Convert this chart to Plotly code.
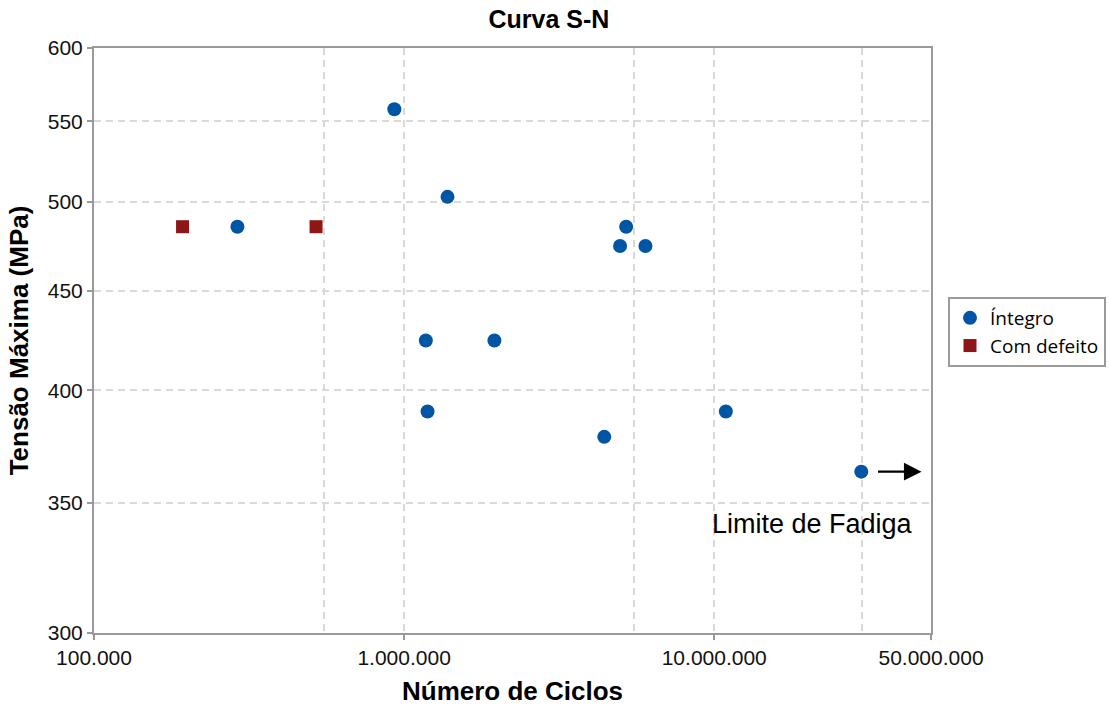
import math
import plotly.graph_objects as go

# Fatigue test results: cycles to failure and maximum stress (MPa)
integro_ciclos = [290000, 930000, 1380000, 5200000, 4970000, 6000000,
                  1175000, 1955000, 1190000, 4420000, 10900000, 29800000]
integro_tensao = [485.5, 558, 503, 485.5, 474.5, 474.5,
                  424.3, 424.3, 390, 378.5, 390, 363.2]

defeito_ciclos = [193000, 520000]
defeito_tensao = [485.5, 485.5]

x_ticks = [1e5, 1e6, 1e7, 5e7]
x_tick_text = ["100.000", "1.000.000", "10.000.000", "50.000.000"]
x_minor_grid = [5.5e5, 5.5e6, 3.0e7]
y_ticks = [300, 350, 400, 450, 500, 550, 600]
y_tick_text = ["300", "350", "400", "450", "500", "550", "600"]

# Run-out (fatigue limit) marker
runout_ciclos = 29800000
runout_tensao = 363.2
runout_seta = 4.66e7
limite_label = "Limite de Fadiga"
limite_y = 341.5

AXIS_GRAY = "#9a9a9a"
GRID_GRAY = "#d9d9d9"
BLUE = "#0055a5"
RED = "#8e1616"

fig = go.Figure()
fig.add_trace(go.Scatter(
    x=integro_ciclos, y=integro_tensao, mode="markers", name="Íntegro",
    marker=dict(symbol="circle", size=14, color=BLUE),
))
fig.add_trace(go.Scatter(
    x=defeito_ciclos, y=defeito_tensao, mode="markers", name="Com defeito",
    marker=dict(symbol="square", size=13, color=RED),
))

fig.add_annotation(
    x=math.log10(runout_seta), y=math.log10(runout_tensao), xref="x", yref="y",
    ax=-45, ay=0, text="", showarrow=True,
    arrowhead=2, arrowsize=1.6, arrowwidth=2.2, arrowcolor="#000000", standoff=0,
)
fig.add_annotation(
    x=7, y=math.log10(limite_y), xref="x", yref="y",
    text=limite_label, showarrow=False, xanchor="left", yanchor="middle",
    xshift=-3, borderpad=0,
    font=dict(family="Liberation Sans, Arial", size=27, color="#000000"),
)

axis_common = dict(
    showline=True, linecolor=AXIS_GRAY, linewidth=2, mirror=True,
    ticks="outside", ticklen=5, tickwidth=1.5, tickcolor=AXIS_GRAY,
    showgrid=True, gridcolor=GRID_GRAY, gridwidth=1.5, griddash="7px,5px",
    zeroline=False, automargin=False,
    tickfont=dict(family="Liberation Sans, Arial", size=21, color="#111111"),
)

fig.update_xaxes(
    type="log", range=[5, math.log10(5e7)],
    tickmode="array", tickvals=x_ticks, ticktext=x_tick_text,
    minor=dict(tickvals=x_minor_grid, showgrid=True, gridcolor=GRID_GRAY,
               gridwidth=1.5, griddash="7px,5px", ticks=""),
    title=dict(text="<b>Número de Ciclos</b>", standoff=14,
               font=dict(family="Liberation Sans, Arial", size=26, color="#000000")),
    **axis_common,
)
fig.update_yaxes(
    type="log", range=[math.log10(300), math.log10(600)],
    tickmode="array", tickvals=y_ticks, ticktext=y_tick_text,
    title=dict(text="<b>Tensão Máxima (MPa)</b>", standoff=12,
               font=dict(family="Liberation Sans, Arial", size=26, color="#000000")),
    **axis_common,
)

fig.update_layout(
    width=1109, height=706,
    margin=dict(l=94, r=178, t=48, b=73, autoexpand=False),
    paper_bgcolor="white", plot_bgcolor="white",
    title=dict(text="<b>Curva S-N</b>", x=0.495, xref="container", xanchor="center",
               y=0.973, yref="container", yanchor="middle",
               font=dict(family="Liberation Sans, Arial", size=25, color="#000000")),
    legend=dict(
        xref="container", yref="container",
        x=948 / 1109, y=1 - 297 / 706, xanchor="left", yanchor="top",
        bgcolor="white", bordercolor=AXIS_GRAY, borderwidth=2,
        font=dict(family="Open Sans", size=19, color="#000000"),
        tracegroupgap=0,
    ),
    showlegend=True,
)

fig.write_html("out.html")
